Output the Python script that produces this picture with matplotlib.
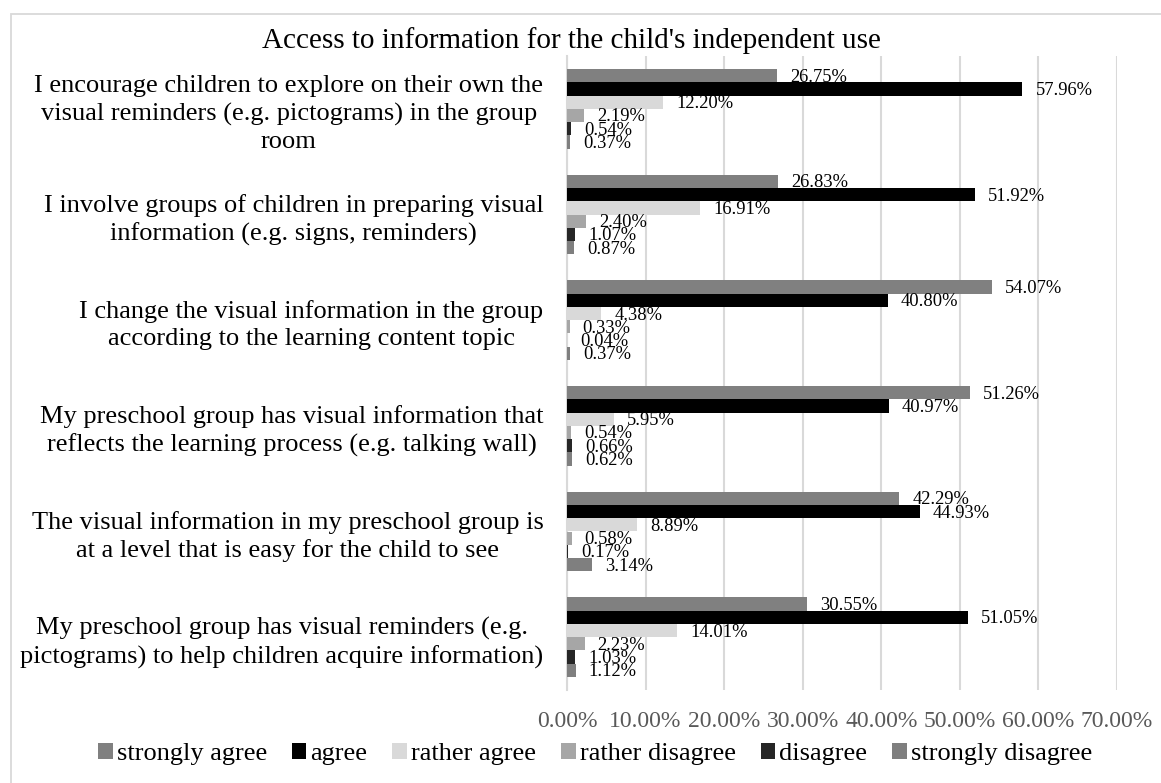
import numpy as np
import matplotlib
matplotlib.use('Agg')
import matplotlib.pyplot as plt
import matplotlib.patches as patches

plt.rcParams['font.family'] = ['Liberation Serif', 'DejaVu Serif']

titulo = "Access to information for the child's independent use"

categorias = [
	"I encourage children to explore on their own the\nvisual reminders (e.g. pictograms) in the group\nroom",
	"I involve groups of children in preparing visual\ninformation (e.g. signs, reminders)",
	"I change the visual information in the group\naccording to the learning content topic",
	"My preschool group has visual information that\nreflects the learning process (e.g. talking wall)",
	"The visual information in my preschool group is\nat a level that is easy for the child to see",
	"My preschool group has visual reminders (e.g.\npictograms) to help children acquire information)",
]

series = ['strongly agree', 'agree', 'rather agree', 'rather disagree', 'disagree', 'strongly disagree']

strongly_agree = [26.75, 26.83, 54.07, 51.26, 42.29, 30.55]
agree = [57.96, 51.92, 40.80, 40.97, 44.93, 51.05]
rather_agree = [12.20, 16.91, 4.38, 5.95, 8.89, 14.01]
rather_disagree = [2.19, 2.40, 0.33, 0.54, 0.58, 2.23]
disagree = [0.54, 1.07, 0.04, 0.66, 0.17, 1.03]
strongly_disagree = [0.37, 0.87, 0.37, 0.62, 3.14, 1.12]

valores = [strongly_agree, agree, rather_agree, rather_disagree, disagree, strongly_disagree]
cores = ['#808080', '#000000', '#d9d9d9', '#a6a6a6', '#262626', '#7f7f7f']

ticks = [0, 10, 20, 30, 40, 50, 60, 70]

fig = plt.figure(figsize=(11.61, 7.83), dpi=100)
ax = fig.add_axes([567/1161, 1-690/783, (1117-567)/1161, (690-56)/783])

# moldura do grafico (so aparecem borda esquerda e superior)
moldura = patches.Rectangle((11/1161, -0.05), 1.2, 1-14/783+0.05, transform=fig.transFigure,
	fill=False, edgecolor='#d9d9d9', lw=1.3)
fig.patches.append(moldura)

n = len(categorias)
h = 0.126
y = np.arange(n)

for k in range(len(series)):
	pos = y + (k - 2.5) * h
	ax.barh(pos, valores[k], height=h, color=cores[k], label=series[k], zorder=3)
	for p, v in zip(pos, valores[k]):
		ax.annotate('%.2f%%' % v, xy=(v, p), xytext=(13, -1.5), textcoords='offset pixels',
			va='center', ha='left', fontsize=13.3, color='black', zorder=4)

ax.set_xlim(0, 70)
ax.set_ylim(n - 0.5, -0.5)
ax.set_xticks(ticks)
ax.set_xticklabels(['%.2f%%' % t for t in ticks], color='#595959', fontsize=17)
ax.set_yticks(y)
ax.set_yticklabels(categorias, fontsize=19, linespacing=1.3)
for lab in ax.get_yticklabels():
	lab.set_multialignment('center')
ax.tick_params(axis='both', length=0)
ax.tick_params(axis='y', pad=17)
ax.tick_params(axis='x', pad=15)

ax.grid(axis='x', color='#d9d9d9', lw=1.5, zorder=0)
for s in ['top', 'right', 'bottom']:
	ax.spines[s].set_visible(False)
ax.spines['left'].set_color('#d9d9d9')
ax.spines['left'].set_linewidth(1.5)

fig.text(571/1161, 1-41/783, titulo, ha='center', va='center', fontsize=21)

fig.legend(loc='center', bbox_to_anchor=(595/1161, 1-754/783), ncol=6, frameon=False,
	fontsize=19, handlelength=0.55, handleheight=0.55, handletextpad=0.15, columnspacing=0.95)

plt.savefig('out.png', dpi=100)
